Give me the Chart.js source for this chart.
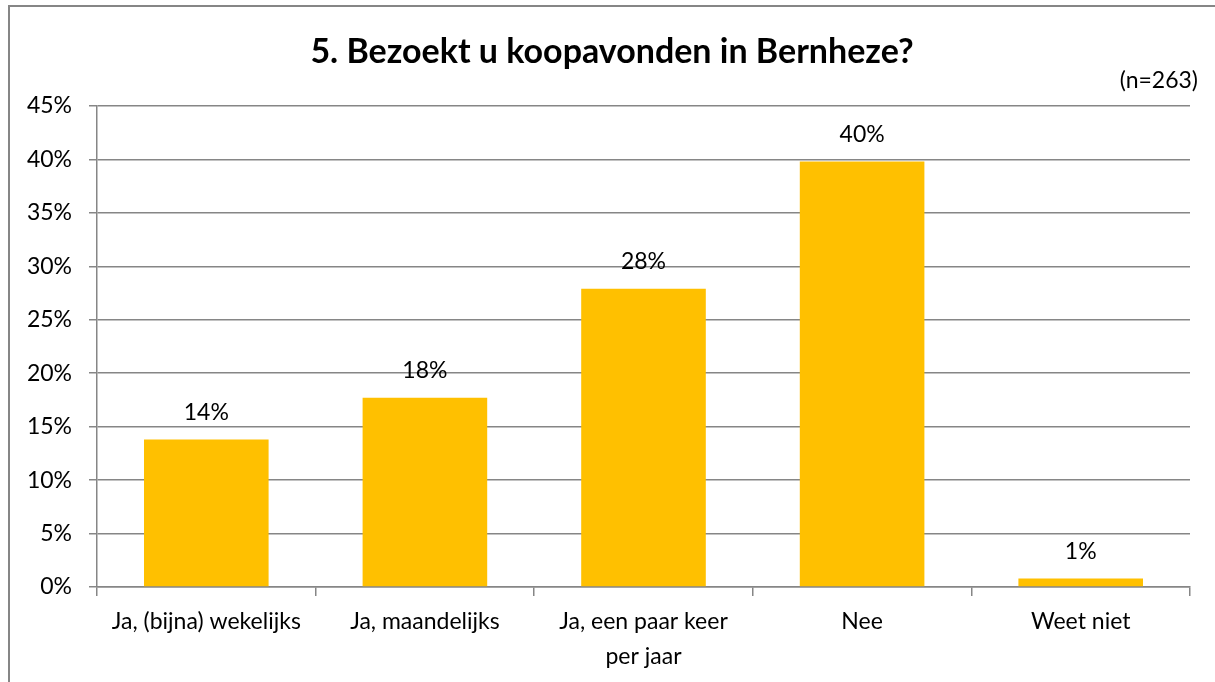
<!DOCTYPE html>
<html>
<head>
<meta charset="utf-8">
<script src="https://cdn.jsdelivr.net/npm/chart.js@4.4.1/dist/chart.umd.min.js"></script>
<style>
    html, body { margin: 0; padding: 0; background: #ffffff; }
    #wrap { width: 1215px; height: 682px; }
</style>
</head>
<body>
<div id="wrap"><canvas id="visitChart" width="1215" height="682"></canvas></div>
<script>
// Survey data (percent of respondents)
const categories = [
    'Ja, (bijna) wekelijks',
    'Ja, maandelijks',
    ['Ja, een paar keer', 'per jaar'],
    'Nee',
    'Weet niet'
];
const shares = [13.8, 17.7, 27.9, 39.8, 0.8];
const yTicks = [0, 5, 10, 15, 20, 25, 30, 35, 40, 45];

const titleText = '5. Bezoekt u koopavonden in Bernheze?';
const sampleNote = '(n=263)';

const barColor = '#FFC000';
const lineColor = '#868686';
const fontFamily = 'Lato, "Noto Sans", sans-serif';
const textSize = 23;

// Frame around the whole chart, title and sample size note
const framePlugin = {
    id: 'frame',
    beforeDraw(chart) {
        const ctx = chart.ctx;
        ctx.save();
        ctx.fillStyle = '#ffffff';
        ctx.fillRect(0, 0, chart.width, chart.height);
        ctx.strokeStyle = lineColor;
        ctx.lineWidth = 2;
        ctx.strokeRect(9, 6, chart.width + 20, chart.height + 20);
        ctx.restore();
    },
    afterDraw(chart) {
        const ctx = chart.ctx;
        ctx.save();
        ctx.fillStyle = '#000000';
        ctx.textBaseline = 'middle';
        // title, centred on the frame
        ctx.font = 'bold 34px ' + fontFamily;
        ctx.textAlign = 'center';
        ctx.fillText(titleText, 612, 52);
        // sample size
        ctx.font = textSize + 'px ' + fontFamily;
        ctx.textAlign = 'right';
        ctx.fillText(sampleNote, 1198, 81);
        ctx.restore();
    }
};

// Value labels above the bars
const valueLabels = {
    id: 'valueLabels',
    afterDatasetsDraw(chart) {
        const ctx = chart.ctx;
        const meta = chart.getDatasetMeta(0);
        ctx.save();
        ctx.font = textSize + 'px ' + fontFamily;
        ctx.fillStyle = '#000000';
        ctx.textAlign = 'center';
        ctx.textBaseline = 'middle';
        meta.data.forEach((bar, i) => {
            ctx.fillText(Math.round(shares[i]) + '%', bar.x, bar.y - 27);
        });
        ctx.restore();
    }
};

const ctx = document.getElementById('visitChart').getContext('2d');
const visitChart = new Chart(ctx, {
    type: 'bar',
    data: {
        labels: categories,
        datasets: [{
            data: shares,
            backgroundColor: barColor,
            borderWidth: 0,
            categoryPercentage: 0.57,
            barPercentage: 1.0
        }]
    },
    options: {
        responsive: false,
        animation: false,
        layout: {
            padding: { left: 10, right: 25, top: 106, bottom: 0 }
        },
        plugins: {
            legend: { display: false },
            tooltip: { enabled: false },
            title: { display: false }
        },
        scales: {
            x: {
                grid: {
                    display: true,
                    drawOnChartArea: false,
                    drawTicks: true,
                    tickLength: 9,
                    color: lineColor,
                    lineWidth: 1.5
                },
                border: { display: true, color: lineColor, width: 1.5 },
                ticks: {
                    color: '#000000',
                    font: { family: fontFamily, size: textSize, lineHeight: 1.52 },
                    padding: 8,
                    maxRotation: 0,
                    autoSkip: false
                },
                afterFit(scale) { scale.height = 95; }
            },
            y: {
                min: 0,
                max: 45,
                afterBuildTicks(scale) {
                    scale.ticks = yTicks.map(v => ({ value: v }));
                },
                grid: {
                    color: lineColor,
                    lineWidth: 1.5,
                    tickLength: 8
                },
                border: { display: true, color: lineColor, width: 1.5 },
                ticks: {
                    color: '#000000',
                    font: { family: fontFamily, size: textSize },
                    padding: 17,
                    callback: v => v + '%'
                },
                afterFit(scale) { scale.width = 87; }
            }
        }
    },
    plugins: [framePlugin, valueLabels]
});
</script>
</body>
</html>
